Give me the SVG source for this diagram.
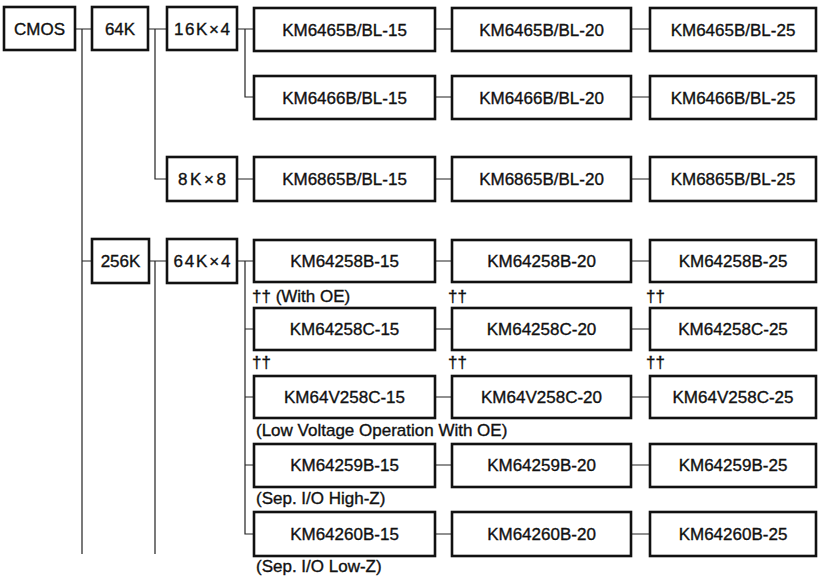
<svg xmlns="http://www.w3.org/2000/svg" width="821" height="578" viewBox="0 0 821 578">
<style>
.b{fill:#fff;stroke:#111;stroke-width:2.6}
.t{font-family:"Liberation Sans",Arial,sans-serif;font-size:17px;fill:#111;stroke:#111;stroke-width:0.35;text-anchor:middle}
.n{font-family:"Liberation Sans",Arial,sans-serif;font-size:17px;fill:#111;stroke:#111;stroke-width:0.35}
.c{fill:none;stroke:#222;stroke-width:1.2}
</style>
<rect width="821" height="578" fill="#fff"/>
<g id="connectors" class="c">
<path d="M75 29H92M82 29V554M82 261H92"/>
<path d="M148 29H167M155 29V179H167"/>
<path d="M237 29H254M245 29V97H254M237 179H254"/>
<path d="M149 261H167M155 261V554"/>
<path d="M237 261H254M245 261V534H254M245 329H254M245 397H254M245 465H254"/>
<path d="M435 29H452M631 29H650M435 97H452M631 97H650M435 179H452M631 179H650"/>
<path d="M435 261H452M631 261H650M435 329H452M631 329H650M435 397H452M631 397H650M435 465H452M631 465H650M435 534H452M631 534H650"/>
</g>
<g id="cmos"><rect class="b" x="4" y="7" width="71" height="43"/><text class="t" x="39.5" y="35">CMOS</text></g>
<g id="k64"><rect class="b" x="92" y="7" width="56" height="43"/><text class="t" x="120" y="35">64K</text></g>
<g id="k16x4"><rect class="b" x="167" y="7" width="70" height="43"/><text class="t" x="202" y="35" textLength="56" lengthAdjust="spacing">16K×4</text></g>
<g id="k8x8"><rect class="b" x="167" y="157" width="70" height="44"/><text class="t" x="202" y="185" textLength="48" lengthAdjust="spacing">8K×8</text></g>
<g id="k256"><rect class="b" x="92" y="239" width="57" height="44"/><text class="t" x="120.5" y="267">256K</text></g>
<g id="k64x4"><rect class="b" x="167" y="239" width="70" height="44"/><text class="t" x="202" y="267" textLength="57" lengthAdjust="spacing">64K×4</text></g>

<g id="km6465_15"><rect class="b" x="254" y="8" width="181" height="43"/><text class="t" x="344.5" y="36">KM6465B/BL-15</text></g>
<g id="km6465_20"><rect class="b" x="452" y="8" width="179" height="43"/><text class="t" x="541.5" y="36">KM6465B/BL-20</text></g>
<g id="km6465_25"><rect class="b" x="650" y="8" width="166" height="43"/><text class="t" x="733" y="36">KM6465B/BL-25</text></g>

<g id="km6466_15"><rect class="b" x="254" y="76" width="181" height="43"/><text class="t" x="344.5" y="104">KM6466B/BL-15</text></g>
<g id="km6466_20"><rect class="b" x="452" y="76" width="179" height="43"/><text class="t" x="541.5" y="104">KM6466B/BL-20</text></g>
<g id="km6466_25"><rect class="b" x="650" y="76" width="166" height="43"/><text class="t" x="733" y="104">KM6466B/BL-25</text></g>

<g id="km6865_15"><rect class="b" x="254" y="157" width="181" height="44"/><text class="t" x="344.5" y="185">KM6865B/BL-15</text></g>
<g id="km6865_20"><rect class="b" x="452" y="157" width="179" height="44"/><text class="t" x="541.5" y="185">KM6865B/BL-20</text></g>
<g id="km6865_25"><rect class="b" x="650" y="157" width="166" height="44"/><text class="t" x="733" y="185">KM6865B/BL-25</text></g>

<g id="km64258b_15"><rect class="b" x="254" y="240" width="181" height="42"/><text class="t" x="344.5" y="267">KM64258B-15</text></g>
<g id="km64258b_20"><rect class="b" x="452" y="240" width="179" height="42"/><text class="t" x="541.5" y="267">KM64258B-20</text></g>
<g id="km64258b_25"><rect class="b" x="650" y="240" width="166" height="42"/><text class="t" x="733" y="267">KM64258B-25</text></g>

<g id="km64258c_15"><rect class="b" x="254" y="308" width="181" height="42"/><text class="t" x="344.5" y="335">KM64258C-15</text></g>
<g id="km64258c_20"><rect class="b" x="452" y="308" width="179" height="42"/><text class="t" x="541.5" y="335">KM64258C-20</text></g>
<g id="km64258c_25"><rect class="b" x="650" y="308" width="166" height="42"/><text class="t" x="733" y="335">KM64258C-25</text></g>

<g id="km64v258c_15"><rect class="b" x="254" y="376" width="181" height="42"/><text class="t" x="344.5" y="403">KM64V258C-15</text></g>
<g id="km64v258c_20"><rect class="b" x="452" y="376" width="179" height="42"/><text class="t" x="541.5" y="403">KM64V258C-20</text></g>
<g id="km64v258c_25"><rect class="b" x="650" y="376" width="166" height="42"/><text class="t" x="733" y="403">KM64V258C-25</text></g>

<g id="km64259b_15"><rect class="b" x="254" y="444" width="181" height="43"/><text class="t" x="344.5" y="471">KM64259B-15</text></g>
<g id="km64259b_20"><rect class="b" x="452" y="444" width="179" height="43"/><text class="t" x="541.5" y="471">KM64259B-20</text></g>
<g id="km64259b_25"><rect class="b" x="650" y="444" width="166" height="43"/><text class="t" x="733" y="471">KM64259B-25</text></g>

<g id="km64260b_15"><rect class="b" x="254" y="512" width="181" height="44"/><text class="t" x="344.5" y="540">KM64260B-15</text></g>
<g id="km64260b_20"><rect class="b" x="452" y="512" width="179" height="44"/><text class="t" x="541.5" y="540">KM64260B-20</text></g>
<g id="km64260b_25"><rect class="b" x="650" y="512" width="166" height="44"/><text class="t" x="733" y="540">KM64260B-25</text></g>

<g id="notes">
<text class="n" x="252" y="302">†† (With OE)</text>
<text class="n" x="448" y="302">††</text>
<text class="n" x="646" y="302">††</text>
<text class="n" x="252" y="368">††</text>
<text class="n" x="448" y="368">††</text>
<text class="n" x="646" y="368">††</text>
<text class="n" x="256" y="436">(Low Voltage Operation With OE)</text>
<text class="n" x="256" y="504">(Sep. I/O High-Z)</text>
<text class="n" x="256" y="572">(Sep. I/O Low-Z)</text>
</g>
</svg>
